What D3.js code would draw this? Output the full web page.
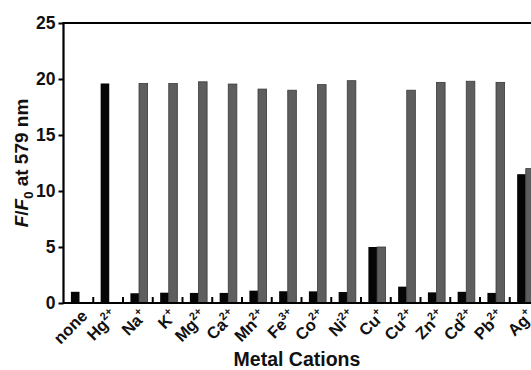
<!DOCTYPE html>
<html><head><meta charset="utf-8">
<script src="https://cdn.jsdelivr.net/npm/d3@7"></script>
<style>body{margin:0;background:#fff;} svg{display:block;}</style>
</head><body>
<script>
const categories = ["none","Hg","Na","K","Mg","Ca","Mn","Fe","Co","Ni","Cu","Cu","Zn","Cd","Pb","Ag"];
const charges    = ["", "2+","+","+","2+","2+","2+","3+","2+","2+","+","2+","2+","2+","2+","+"];
const blackValues = [1.0,19.6,0.87,0.92,0.9,0.9,1.1,1.05,1.04,0.98,5.0,1.46,0.95,1.0,0.9,11.5];
const grayValues  = [0,0,19.6,19.6,19.75,19.55,19.1,19.0,19.5,19.85,5.0,19.0,19.7,19.8,19.7,12.0];
const yTicks = [0,5,10,15,20,25];

(function(){
const W = 531, H = 370;
const mLeft = 63.5, mTop = 23, mBottom = 303;
const band = 29.75;
const mRight = mLeft + band * categories.length;
const FF = "'Liberation Sans', Arial, sans-serif";

const svg = d3.select("body").append("svg").attr("width", W).attr("height", H)
  .style("font-family", FF);

const x = d3.scaleBand().domain(d3.range(categories.length)).range([mLeft, mRight]).paddingInner(0).paddingOuter(0);
const y = d3.scaleLinear().domain([0,25]).range([mBottom, mTop]);

const bw = 8.6;
const off = 7.4;
svg.append("g").selectAll("rect").data(blackValues).join("rect")
  .attr("x", (d,i) => x(i) + off)
  .attr("width", bw)
  .attr("y", d => y(d))
  .attr("height", d => y(0) - y(d))
  .attr("fill", "#050505");
svg.append("g").selectAll("rect").data(grayValues).join("rect")
  .attr("x", (d,i) => x(i) + off + bw)
  .attr("width", bw)
  .attr("y", d => y(d))
  .attr("height", d => y(0) - y(d))
  .attr("fill", "#5e5e5e")
  .attr("stroke", "#3a3a3a").attr("stroke-width", 0.8);

const yAxis = d3.axisLeft(y).tickValues(yTicks).tickSize(5).tickPadding(3);
const gy = svg.append("g").attr("transform", `translate(${mLeft},0)`).call(yAxis);
gy.select(".domain").remove();
gy.selectAll(".tick line").attr("stroke","#000").attr("stroke-width",2);
gy.selectAll(".tick text").attr("font-size", 17.5).attr("font-weight","bold").attr("fill","#111")
  .attr("font-family", FF);

const boundaries = d3.range(1, categories.length).map(i => x(i));
svg.append("g").selectAll("line").data(boundaries).join("line")
  .attr("x1", d => d).attr("x2", d => d)
  .attr("y1", mBottom).attr("y2", mBottom - 6)
  .attr("stroke","#000").attr("stroke-width",2);

svg.append("path")
  .attr("d", `M${mRight},${mTop}H${mLeft}V${mBottom}H${mRight}`)
  .attr("fill","none").attr("stroke","#000").attr("stroke-width",2.2);

const lab = svg.append("g").selectAll("text").data(categories).join("text")
  .attr("text-anchor","end")
  .attr("font-size", 16.5).attr("font-weight","bold").attr("fill","#111")
  .attr("transform", (d,i) => `translate(${x(i) + band/2 + 10},${mBottom + 14}) rotate(-45)`);
lab.each(function(d,i){
  const t = d3.select(this);
  t.append("tspan").text(d);
  if (charges[i]) t.append("tspan").attr("dy", -7).attr("font-size", 11).text(charges[i]);
});

svg.append("text").attr("x", 297).attr("y", 366).attr("text-anchor","middle")
  .attr("font-size", 19.5).attr("font-weight","bold").attr("fill","#111").text("Metal Cations");

const yt = svg.append("text").attr("text-anchor","middle")
  .attr("transform", `translate(28,163) rotate(-90)`)
  .attr("font-size", 19).attr("font-weight","bold").attr("fill","#111");
yt.append("tspan").attr("font-style","italic").text("F");
yt.append("tspan").text("/");
yt.append("tspan").attr("font-style","italic").text("F");
yt.append("tspan").attr("dy", 5).attr("font-size", 13).text("0");
yt.append("tspan").attr("dy", -5).text(" at 579 nm");
})();
</script>
</body></html>
